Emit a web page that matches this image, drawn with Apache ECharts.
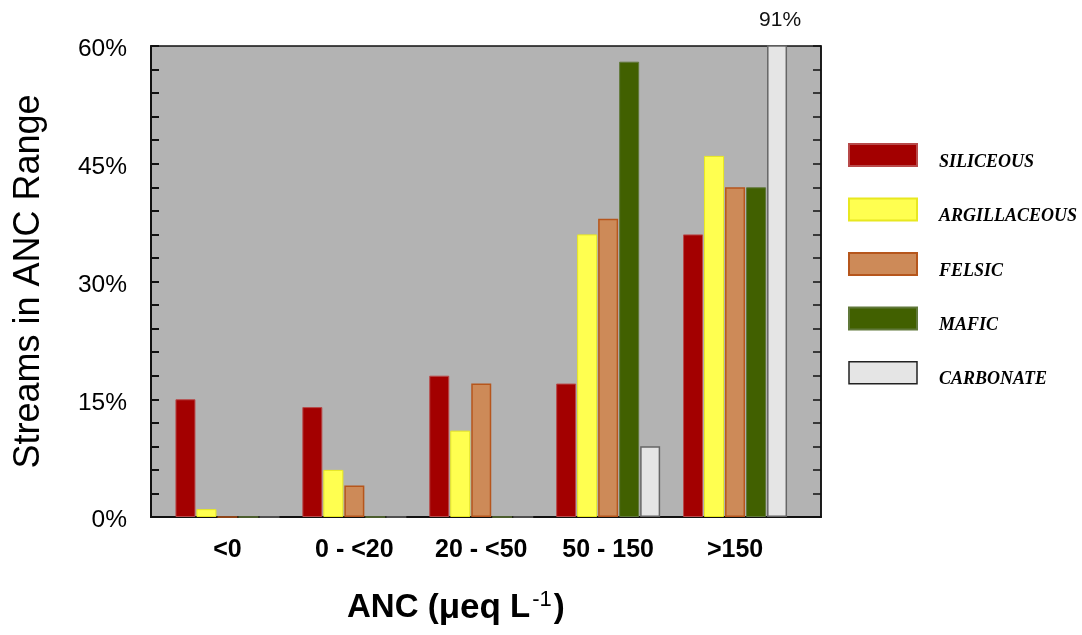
<!DOCTYPE html>
<html>
<head>
<meta charset="utf-8">
<script src="https://cdn.jsdelivr.net/npm/echarts@6/dist/echarts.min.js"></script>
<style>html,body{margin:0;padding:0;background:#fff}#c{width:1082px;height:635px}</style>
</head>
<body>
<div id="c"></div>
<script>
var categories = ['<0', '0 - <20', '20 - <50', '50 - 150', '>150'];
var siliceous = [15, 14, 18, 17, 36];
var argillaceous = [1, 6, 11, 36, 46];
var felsic = [0, 4, 17, 38, 42];
var mafic = [0, 0, 0, 58, 42];
var carbonate = [0, 0, 0, 9, 91];
var yTicks = [0, 15, 30, 45, 60];

var chart = echarts.init(document.getElementById('c'));
var sansFont = 'Liberation Sans';
var serifFont = 'Liberation Serif';

function barSeries(name, data, fill, border, bw) {
  return {
    name: name, type: 'bar', xAxisIndex: 1, yAxisIndex: 2,
    data: data, barWidth: 20, barGap: '5%',
    itemStyle: {color: fill, borderColor: border, borderWidth: bw},
    emphasis: {disabled: true}
  };
}

var carbSeries = barSeries('CARBONATE', carbonate.map(function (v, i) {
  if (v > yTicks[yTicks.length - 1]) {
    return {value: v, label: {show: true, position: 'top', distance: 15, offset: [3, 0],
      formatter: v + '%', fontFamily: sansFont, fontSize: 21, color: '#111'}};
  }
  return v;
}), '#e5e5e5', '#666', 1.5);

chart.setOption({
  animation: false,
  grid: [
    {left: 151, top: 46, width: 670, height: 471, show: true,
     backgroundColor: '#b3b3b3', borderColor: '#111', borderWidth: 1.5},
    {left: 164, top: 46, width: 634.5, height: 471}
  ],
  xAxis: [
    {type: 'value', gridIndex: 0, min: 0, max: 1,
     axisLine: {show: true, lineStyle: {color: '#111', width: 2}},
     axisTick: {show: false}, axisLabel: {show: false}, splitLine: {show: false}},
    {type: 'category', gridIndex: 1, data: categories,
     axisLine: {show: false}, axisTick: {show: false}, splitLine: {show: false},
     axisLabel: {fontFamily: sansFont, fontWeight: 'bold', fontSize: 25, color: '#000', margin: 21, interval: 0}}
  ],
  yAxis: [
    {type: 'value', gridIndex: 0, min: 0, max: 60, interval: 15, position: 'left',
     name: 'Streams in ANC Range', nameLocation: 'middle', nameGap: 104, nameRotate: 90,
     nameTextStyle: {fontFamily: sansFont, fontSize: 36, color: '#000'},
     axisLine: {show: true, lineStyle: {color: '#111', width: 2}},
     axisTick: {show: true, inside: true, length: 8, lineStyle: {color: '#111', width: 2}},
     minorTick: {show: true, splitNumber: 5, length: 8, lineStyle: {color: '#111', width: 2}},
     axisLabel: {formatter: '{a|{value}%}', margin: 24,
       rich: {a: {fontFamily: sansFont, fontSize: 24.5, color: '#000', padding: [7, 0, 0, 0]}}},
     splitLine: {show: false}},
    {type: 'value', gridIndex: 0, min: 0, max: 60, interval: 15, position: 'right',
     axisLine: {show: true, lineStyle: {color: '#111', width: 1.5}},
     axisTick: {show: true, inside: true, length: 8, lineStyle: {color: '#111', width: 1.5}},
     minorTick: {show: true, splitNumber: 5, length: 8, lineStyle: {color: '#111', width: 1.5}},
     axisLabel: {show: false}, splitLine: {show: false}},
    {type: 'value', gridIndex: 1, min: 0, max: 60, show: false}
  ],
  title: {
    text: 'ANC ({mu|μeq} L{sup|-1})',
    left: 347, top: 589, padding: 0,
    textStyle: {fontFamily: sansFont, fontSize: 33, fontWeight: 'bold', color: '#000',
      rich: {
        mu: {fontFamily: sansFont, fontSize: 35, fontWeight: 'bold', color: '#000'},
        sup: {fontFamily: sansFont, fontSize: 22, fontWeight: 'normal', color: '#000', verticalAlign: 'top', padding: [0, 2, 16, 2]}
      }}
  },
  legend: {
    orient: 'vertical', left: 848, top: 143, padding: 0, itemWidth: 68, itemHeight: 22, itemGap: 26.5,
    icon: 'rect',
    formatter: '{a|{name}}',
    textStyle: {fontFamily: serifFont, fontStyle: 'italic', fontWeight: 'bold', fontSize: 18,
      color: '#000', padding: [0, 0, 0, 17],
      rich: {a: {fontFamily: serifFont, fontStyle: 'italic', fontWeight: 'bold', fontSize: 18,
        color: '#000', padding: [14, 0, 0, 0]}}},
    data: [
      {name: 'SILICEOUS'}, {name: 'ARGILLACEOUS'}, {name: 'FELSIC'}, {name: 'MAFIC'},
      {name: 'CARBONATE', itemStyle: {borderColor: '#222', borderWidth: 1.5}}
    ]
  },
  series: [
    barSeries('SILICEOUS', siliceous, '#a30000', '#b84a4a', 1),
    barSeries('ARGILLACEOUS', argillaceous, '#ffff50', '#e8e820', 1),
    barSeries('FELSIC', felsic, '#cd8a58', '#b6561c', 1.5),
    barSeries('MAFIC', mafic, '#416000', '#60783a', 1),
    carbSeries
  ]
});
</script>
</body>
</html>
